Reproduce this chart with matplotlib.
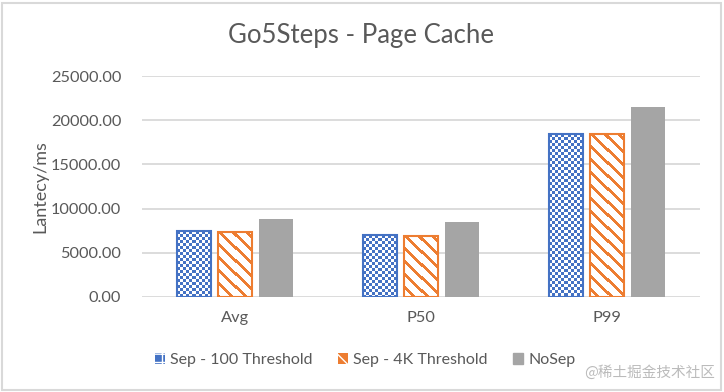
import numpy as np
import matplotlib
matplotlib.use("Agg")
import matplotlib.pyplot as plt
from matplotlib.patches import Patch, Rectangle

plt.rcParams['font.family'] = ['Lato', 'Noto Sans CJK SC', 'DejaVu Sans']

categories = ['Avg', 'P50', 'P99']
series_names = ['Sep - 100 Threshold', 'Sep - 4K Threshold', 'NoSep']
sep_100 = [7430, 7000, 18420]
sep_4k = [7330, 6900, 18420]
nosep = [8840, 8500, 21460]
yticks = [0, 5000, 10000, 15000, 20000, 25000]

blue = '#4472C4'
orange = '#ED7D31'
gray = '#A5A5A5'
text_col = '#595959'

W, H = 724, 392
fig = plt.figure(figsize=(W / 100, H / 100), dpi=100)
ax = fig.add_axes([142 / W, 1 - 297 / H, 558 / W, 221 / H])

x = np.arange(len(categories))
width = 0.183
step = 0.221

b1 = ax.bar(x - step, sep_100, width, facecolor='white', edgecolor='none', zorder=2)
b2 = ax.bar(x, sep_4k, width, facecolor='white', edgecolor='none', zorder=2)
b3 = ax.bar(x + step, nosep, width, color=gray, zorder=2)

ax.set_xlim(-0.5, len(categories) - 0.5)
ax.set_ylim(0, 25000)
ax.set_yticks(yticks)
ax.set_yticklabels(['%.2f' % v for v in yticks])
ax.set_xticks(x)
ax.set_xticklabels(categories)
ax.tick_params(axis='both', length=0, labelsize=11.8, colors=text_col)
ax.tick_params(axis='y', pad=15)
ax.tick_params(axis='x', pad=10)
ax.grid(axis='y', color='#D9D9D9', linewidth=1.3)
for s in ax.spines.values():
    s.set_visible(False)
ax.set_ylabel('Lantecy/ms', fontsize=13, color=text_col)
ax.yaxis.set_label_coords(-0.168, 0.5)
fig.text(361 / W, 1 - 36 / H, 'Go5Steps - Page Cache', ha='center', va='center',
         fontsize=18.5, color=text_col)


def pattern_fill(bars, kind, color):
    # draw a pixel pattern image clipped to each bar
    fig.canvas.draw()
    rgb = matplotlib.colors.to_rgb(color)
    for bar in bars:
        x0, y0 = bar.get_x(), 0
        x1, y1 = x0 + bar.get_width(), bar.get_height()
        (px0, py0), (px1, py1) = ax.transData.transform([(x0, y0), (x1, y1)])
        w = int(round(px1 - px0))
        h = int(round(py1 - py0))
        img = np.ones((h, w, 3))
        yy, xx = np.mgrid[0:h, 0:w]
        if kind == 'checker':
            mask = ((xx // 3 + yy // 3) % 2) == 0
        else:
            mask = ((xx - yy) % 13) < 4
        img[mask] = rgb
        im = ax.imshow(img, extent=(x0, x1, y0, y1), aspect='auto',
                       interpolation='nearest', zorder=2.5)
        im.set_clip_path(bar)
        ax.add_patch(Rectangle((x0, y0), x1 - x0, y1 - y0, fill=False,
                               edgecolor=color, linewidth=1.5, zorder=3))


pattern_fill(b1, 'checker', blue)
pattern_fill(b2, 'stripe', orange)
ax.set_xlim(-0.5, len(categories) - 0.5)
ax.set_ylim(0, 25000)

handles = [Patch(facecolor=blue, edgecolor='white', hatch='++', linewidth=0),
           Patch(facecolor=orange, edgecolor='white', hatch='\\\\', linewidth=0),
           Patch(facecolor=gray, edgecolor=gray)]
fig.legend(handles, series_names, loc='center', bbox_to_anchor=(365 / W, 1 - 360 / H),
           ncol=3, frameon=False, fontsize=11.5, labelcolor=text_col,
           handlelength=0.65, handleheight=0.65, handletextpad=0.3, columnspacing=1.6)

fig.text(715 / W, 1 - 372 / H, '@稀土掘金技术社区', ha='right', va='center',
         fontsize=10.5, color='#BBBBBB', family=['Noto Sans CJK SC', 'DejaVu Sans'])

fig.patches.append(Rectangle((2 / W, 2 / H), 1 - 5 / W, 1 - 5 / H, transform=fig.transFigure,
                             fill=False, edgecolor='#D9D9D9', linewidth=1.5))

fig.savefig('out.png', dpi=100)
